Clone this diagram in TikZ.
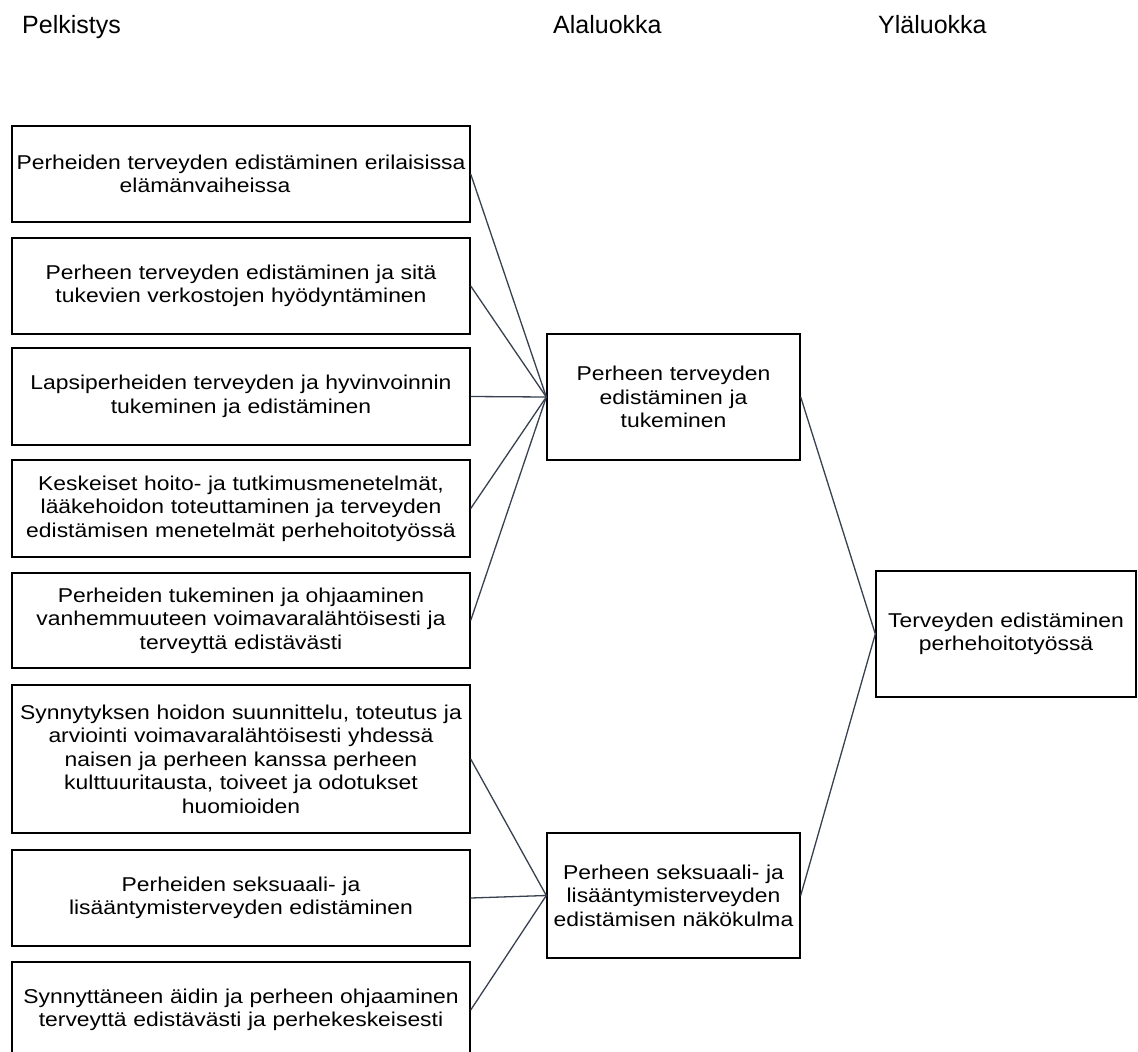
\documentclass[tikz,border=0pt]{standalone}
\usepackage{fontspec}
\setmainfont{Liberation Sans}[FakeStretch=1.145]
\newfontfamily\headfont{Liberation Sans}
\begin{document}
\begin{tikzpicture}[x=1pt,y=-1pt,
  box/.style={draw=black,line width=1.4pt,fill=white,align=center,inner sep=0pt,
    font=\fontsize{20}{23.5}\selectfont},
  lbox/.style={box,minimum width=458pt,text width=452pt},
  mbox/.style={box,minimum width=253pt,text width=250pt,minimum height=126pt},
  rbox/.style={box,minimum width=260pt,text width=256pt,minimum height=126pt},
  head/.style={anchor=base west,inner sep=0pt,font=\headfont\fontsize{25}{28}\selectfont},
  conn/.style={draw={rgb,255:red,55;green,65;blue,80},line width=1.3pt}]
\useasboundingbox (0,0) rectangle (1138,1052);
\clip (0,0) rectangle (1138,1052);
\fill[white] (0,0) rectangle (1138,1052);

\node[head] (h1) at (22,33) {Pelkistys};
\node[head] (h2) at (553,33) {Alaluokka};
\node[head] (h3) at (878,33) {Yläluokka};

\node[lbox,minimum height=96pt] (p1) at (241,174) {Perheiden terveyden edistäminen erilaisissa\\elämänvaiheissa\hspace*{72pt}\null};
\node[lbox,minimum height=96pt] (p2) at (241,286) {Perheen terveyden edistäminen ja sitä\\tukevien verkostojen hyödyntäminen};
\node[lbox,minimum height=97pt] (p3) at (241,396.5) {Lapsiperheiden terveyden ja hyvinvoinnin\\tukeminen ja edistäminen};
\node[lbox,minimum height=97pt] (p4) at (241,508.5) {Keskeiset hoito- ja tutkimusmenetelmät,\\lääkehoidon toteuttaminen ja terveyden\\edistämisen menetelmät perhehoitotyössä};
\node[lbox,minimum height=95pt] (p5) at (241,620.5) {Perheiden tukeminen ja ohjaaminen\\vanhemmuuteen voimavaralähtöisesti ja\\terveyttä edistävästi};
\node[lbox,minimum height=148pt] (p6) at (241,759) {Synnytyksen hoidon suunnittelu, toteutus ja\\arviointi voimavaralähtöisesti yhdessä\\naisen ja perheen kanssa perheen\\kulttuuritausta, toiveet ja odotukset\\huomioiden};
\node[lbox,minimum height=96pt] (p7) at (241,898) {Perheiden seksuaali- ja\\lisääntymisterveyden edistäminen};
\node[lbox,minimum height=96pt] (p8) at (241,1010) {Synnyttäneen äidin ja perheen ohjaaminen\\terveyttä edistävästi ja perhekeskeisesti};

\node[mbox] (a) at (673.5,397) {Perheen terveyden\\edistäminen ja\\tukeminen};
\node[mbox,minimum height=125pt] (b) at (673.5,895.5) {Perheen seksuaali- ja\\lisääntymisterveyden\\edistämisen näkökulma};
\node[rbox] (r) at (1006,634) {Terveyden edistäminen\\perhehoitotyössä};

\foreach \n in {p1,p2,p3,p4,p5} \draw[conn] (\n.east) -- (a.west);
\foreach \n in {p6,p7,p8} \draw[conn] (\n.east) -- (b.west);
\draw[conn] (a.east) -- (r.west);
\draw[conn] (b.east) -- (r.west);
\end{tikzpicture}
\end{document}
